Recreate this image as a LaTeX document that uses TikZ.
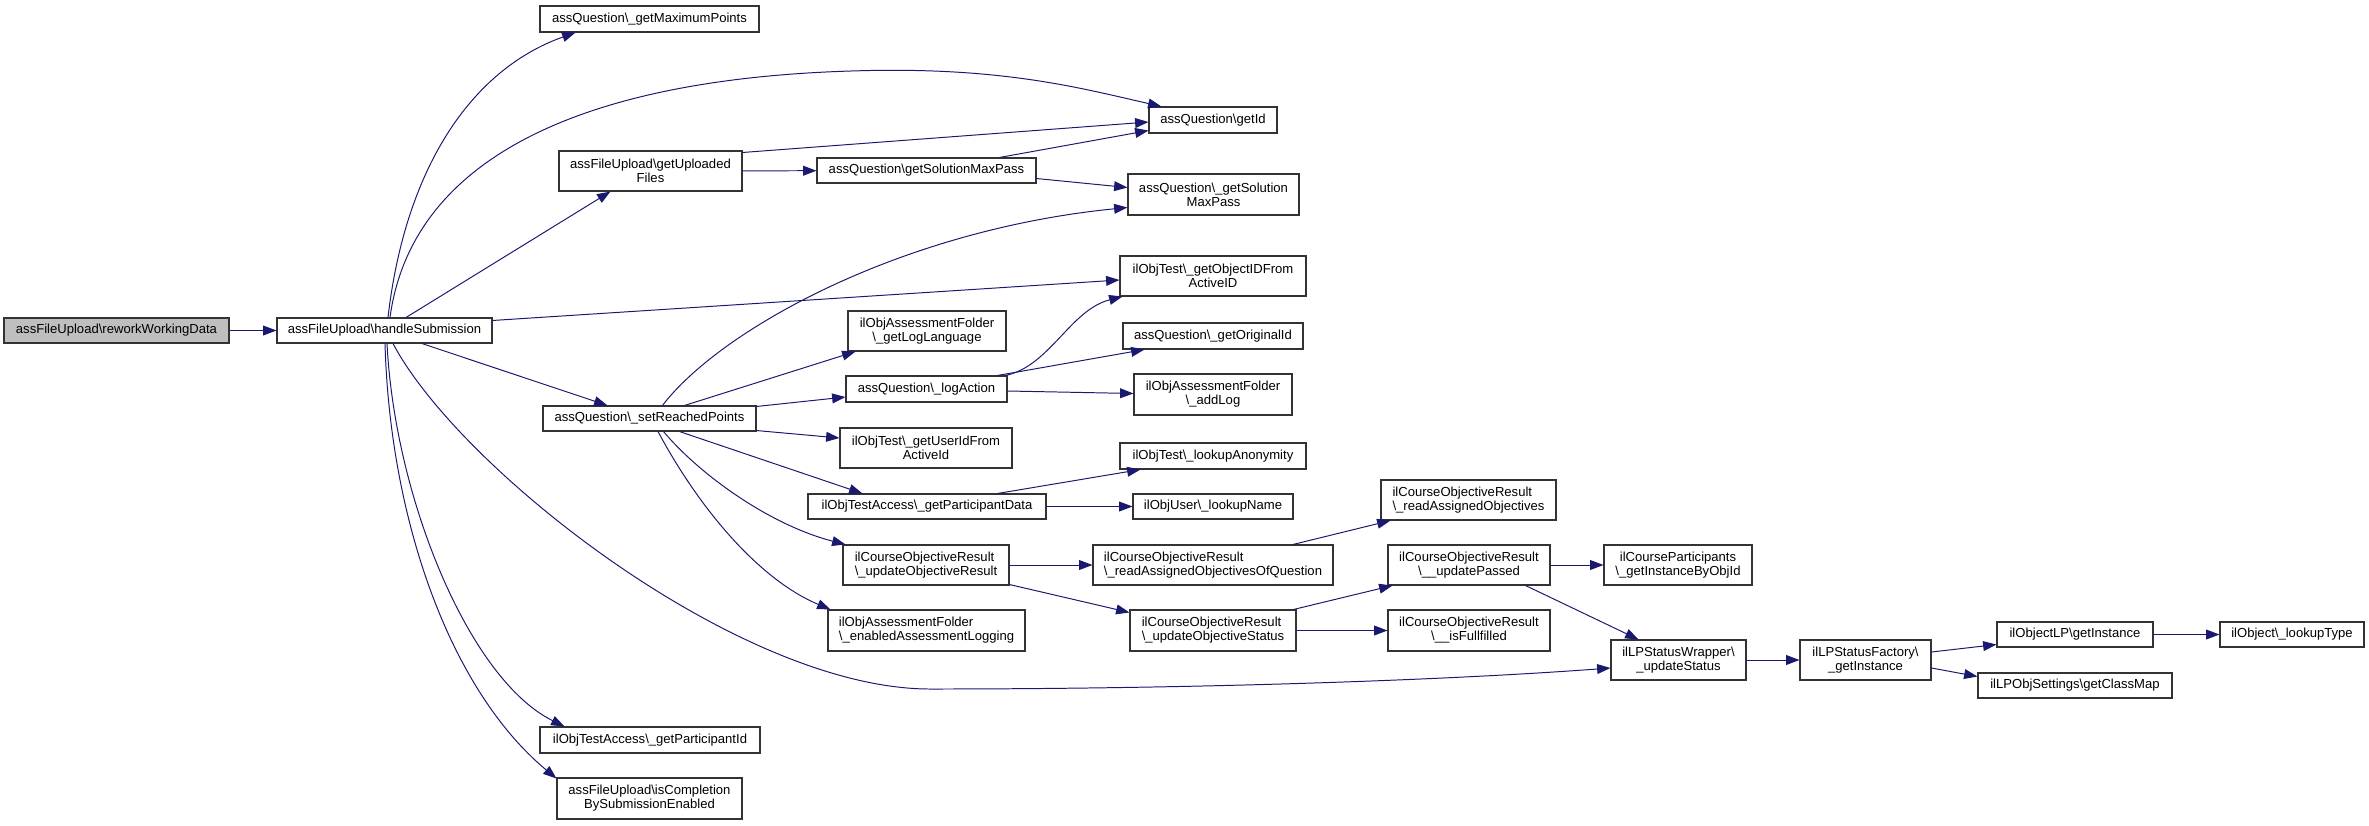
\documentclass[tikz,border=0pt]{standalone}
\usepackage{fontspec}
\setmainfont{Liberation Sans}
\usetikzlibrary{arrows.meta,calc}
\definecolor{edgec}{HTML}{191970}
\definecolor{rootc}{HTML}{BFBFBF}
\newcommand\bsl{\textbackslash}
\newcommand\mkbox[7][]{%
  \pgfmathsetmacro\bxw{(#5-#3)*0.025}%
  \pgfmathsetmacro\bxh{(#6-#4)*0.025}%
  \node[box,#1,minimum width=\bxw cm,minimum height=\bxh cm] (#2) at ({(#3+#5)/2},{(#4+#6)/2}) {#7};}
\tikzset{
  box/.style={draw=black!80, fill=white, line width=0.75pt, inner sep=0pt, align=center,
              font=\fontsize{9.3}{9.9}\selectfont, text=black},
  cedge/.style={draw=edgec, line width=0.7pt, -{Triangle[length=9.5pt,width=7pt]}}
}
\begin{document}
\begin{tikzpicture}[x=0.025cm,y=-0.025cm]
\useasboundingbox (0,0) rectangle (2369,825);
% rank 0-1
\mkbox[fill=rootc]{rw}{4}{318}{229}{343}{assFileUpload\bsl reworkWorkingData}
\mkbox{hs}{277}{318}{492}{343}{assFileUpload\bsl handleSubmission}
% rank 2
\mkbox{gmp}{540}{6}{759}{32}{assQuestion\bsl\_getMaximumPoints}
\mkbox{guf}{559}{151}{742}{191}{assFileUpload\bsl getUploaded\\Files}
\mkbox{srp}{543}{406}{756}{431}{assQuestion\bsl\_setReachedPoints}
\mkbox{gpi}{540}{727}{760}{753}{ilObjTestAccess\bsl\_getParticipantId}
\mkbox{isc}{557}{778}{742}{819}{assFileUpload\bsl isCompletion\\BySubmissionEnabled}
% rank 3
\mkbox{gsmp}{817}{158}{1036}{183}{assQuestion\bsl getSolutionMaxPass}
\mkbox{gll}{848}{311}{1006}{351}{ilObjAssessmentFolder\\\bsl\_getLogLanguage}
\mkbox{la}{846}{376}{1007}{402}{assQuestion\bsl\_logAction}
\mkbox{guifa}{840}{428}{1012}{468}{ilObjTest\bsl\_getUserIdFrom\\ActiveId}
\mkbox{gpd}{808}{494}{1046}{519}{ilObjTestAccess\bsl\_getParticipantData}
\mkbox[align=left]{uor}{843}{545}{1009}{585}{ilCourseObjectiveResult\\\bsl\_updateObjectiveResult}
\mkbox[align=left]{eal}{828}{610}{1025}{651}{ilObjAssessmentFolder\\\bsl\_enabledAssessmentLogging}
% rank 4
\mkbox{gid}{1149}{107}{1277}{133}{assQuestion\bsl getId}
\mkbox{gsmpB}{1128}{174}{1299}{215}{assQuestion\bsl\_getSolution\\MaxPass}
\mkbox{goid}{1120}{256}{1306}{296}{ilObjTest\bsl\_getObjectIDFrom\\ActiveID}
\mkbox{gorig}{1123}{323}{1303}{349}{assQuestion\bsl\_getOriginalId}
\mkbox{addlog}{1134}{374}{1292}{415}{ilObjAssessmentFolder\\\bsl\_addLog}
\mkbox{lanon}{1120}{443}{1306}{469}{ilObjTest\bsl\_lookupAnonymity}
\mkbox{lname}{1133}{494}{1293}{519}{ilObjUser\bsl\_lookupName}
\mkbox[align=left]{raooq}{1093}{545}{1333}{585}{ilCourseObjectiveResult\\\bsl\_readAssignedObjectivesOfQuestion}
\mkbox[align=left]{uos}{1130}{610}{1296}{651}{ilCourseObjectiveResult\\\bsl\_updateObjectiveStatus}
% rank 5
\mkbox[align=left]{rao}{1381}{480}{1556}{520}{ilCourseObjectiveResult\\\bsl\_readAssignedObjectives}
\mkbox{up}{1388}{545}{1550}{585}{ilCourseObjectiveResult\\\bsl\_\_updatePassed}
\mkbox{isf}{1388}{610}{1550}{651}{ilCourseObjectiveResult\\\bsl\_\_isFullfilled}
% rank 6-9
\mkbox{cp}{1604}{545}{1752}{585}{ilCourseParticipants\\\bsl\_getInstanceByObjId}
\mkbox{lpw}{1611}{640}{1746}{680}{ilLPStatusWrapper\bsl\\\_updateStatus}
\mkbox{lpf}{1800}{640}{1931}{680}{ilLPStatusFactory\bsl\\\_getInstance}
\mkbox{olp}{1997}{622}{2153}{647}{ilObjectLP\bsl getInstance}
\mkbox{lt}{2220}{622}{2364}{647}{ilObject\bsl\_lookupType}
\mkbox{gcm}{1978}{673}{2172}{698}{ilLPObjSettings\bsl getClassMap}

% edges
\draw[cedge] (rw) -- (hs);
\draw[cedge] ($(hs.north)+(3.5,0)$) .. controls (405,170) and (470,70) .. ($(gmp.south west)+(36,0)$);
\draw[cedge] ($(hs.north)+(5.5,0)$) .. controls (410,170) and (560,80) .. (851,71)
   .. controls (1000,66) and (1080,88) .. ($(gid.north west)+(13,0)$);
\draw[cedge] ($(hs.north)+(21.5,0)$) -- ($(guf.south west)+(52,0)$);
\draw[cedge] ($(hs.north east)+(0,3)$) -- ($(goid.west)+(0,4)$);
\draw[cedge] ($(hs.south)+(37.5,0)$) -- ($(srp.north west)+(65,0)$);
\draw[cedge] ($(hs.south)+(8.5,0)$) .. controls (460,470) and (740,689) .. (930,689)
   .. controls (1200,689) and (1450,680) .. ($(lpw.west)+(0,8)$);
\draw[cedge] ($(hs.south)+(2.5,0)$) .. controls (395,500) and (470,680) .. ($(gpi.north west)+(25,0)$);
\draw[cedge] ($(hs.south)+(0.5,0)$) .. controls (390,520) and (450,690) .. ($(isc.north west)+(0,1)$);
\draw[cedge] ($(guf.north east)+(0,2)$) -- ($(gid.west)+(0,2)$);
\draw[cedge] (guf) -- (gsmp);
\draw[cedge] ($(gsmp.north)+(73,0)$) -- ($(gid.south west)+(0,-3)$);
\draw[cedge] ($(gsmp.east)+(0,8)$) -- ($(gsmpB.west)+(0,-7)$);
\draw[cedge] ($(srp.north)+(13,0)$) .. controls (720,330) and (900,230) .. ($(gsmpB.west)+(0,13)$);
\draw[cedge] ($(srp.north)+(35,0)$) -- ($(gll.south west)+(8,0)$);
\draw[cedge] ($(srp.north east)+(0,1)$) -- ($(la.west)+(0,8)$);
\draw[cedge] ($(srp.south east)+(0,-1)$) -- ($(guifa.west)+(0,-10)$);
\draw[cedge] ($(srp.south)+(30,0)$) -- ($(gpd.north west)+(55,0)$);
\draw[cedge] ($(srp.south)+(14,0)$) .. controls (700,475) and (770,525) .. ($(uor.north west)+(3,0)$);
\draw[cedge] ($(srp.south)+(8.5,0)$) .. controls (700,510) and (760,580) .. ($(eal.north west)+(3,0)$);
\draw[cedge] ($(la.north east)+(-2,0)$) .. controls (1050,366) and (1070,310) .. ($(goid.south west)+(3,0)$);
\draw[cedge] ($(la.north east)+(-10,0)$) -- ($(gorig.south west)+(22,0)$);
\draw[cedge] ($(la.east)+(0,2)$) -- ($(addlog.west)+(0,-1)$);
\draw[cedge] ($(gpd.north east)+(-49,0)$) -- ($(lanon.south west)+(21,0)$);
\draw[cedge] (gpd) -- (lname);
\draw[cedge] (uor) -- (raooq);
\draw[cedge] ($(uor.south east)+(0,-1)$) -- ($(uos.north west)+(0,3)$);
\draw[cedge] ($(raooq.north)+(80,0)$) -- ($(rao.south west)+(10,0)$);
\draw[cedge] ($(uos.north east)+(-3,0)$) -- ($(up.south west)+(5,0)$);
\draw[cedge] (uos) -- (isf);
\draw[cedge] (up) -- (cp);
\draw[cedge] ($(up.south east)+(-25,0)$) -- ($(lpw.north west)+(28,0)$);
\draw[cedge] (lpw) -- (lpf);
\draw[cedge] ($(lpf.east)+(0,-8)$) -- ($(olp.south west)+(0,-3)$);
\draw[cedge] ($(lpf.east)+(0,8)$) -- ($(gcm.west)+(0,-9)$);
\draw[cedge] (olp) -- (lt);
\end{tikzpicture}
\end{document}
